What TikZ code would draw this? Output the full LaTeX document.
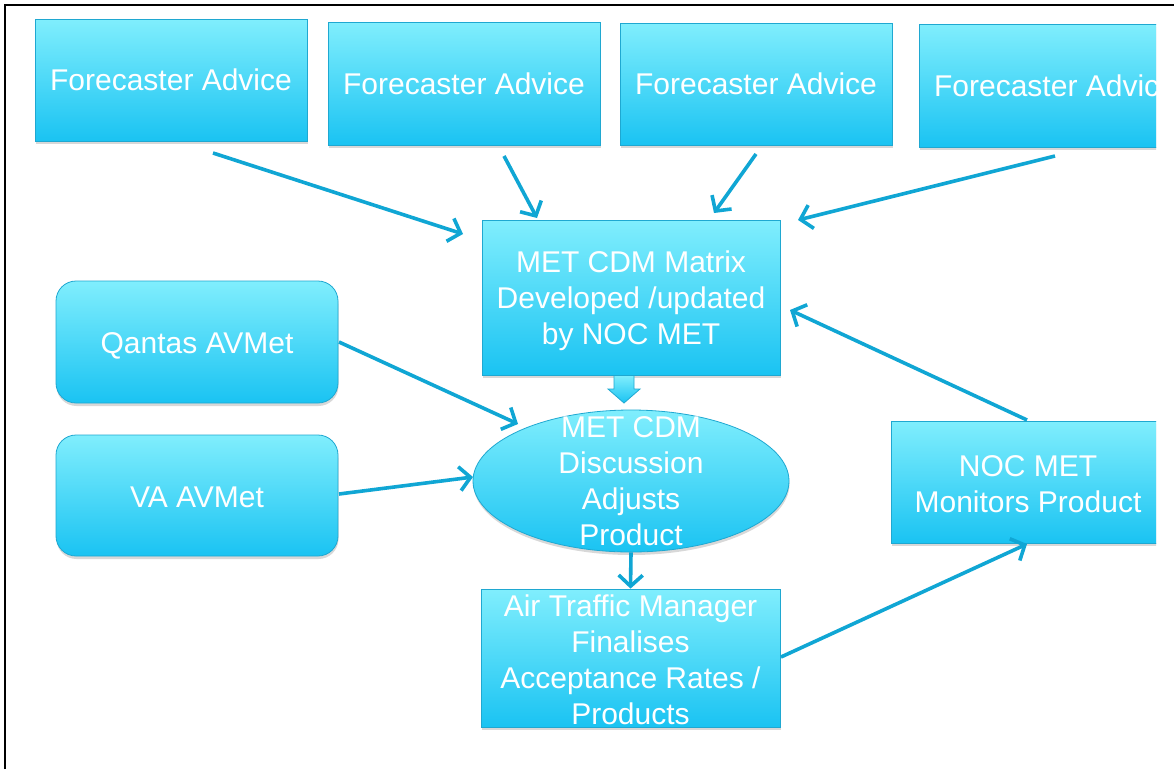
\documentclass[tikz,border=0pt]{standalone}
\usepackage{fontspec}
\setmainfont{Liberation Sans}
\usetikzlibrary{arrows.meta,shapes.geometric,shadows}
\definecolor{ctop}{HTML}{80EEFD}
\definecolor{cbot}{HTML}{1AC3F2}
\definecolor{cedge}{HTML}{1FA8D1}
\definecolor{carr}{HTML}{10A6D4}
\begin{document}
\begin{tikzpicture}[x=1pt,y=-1pt,
  fillsh/.style={draw=cedge, line width=0.8pt, top color=ctop, bottom color=cbot,
    drop shadow={shadow xshift=0.5pt, shadow yshift=-3pt, opacity=0.3}},
  txt/.style={text=white, font=\fontsize{30}{36}\selectfont, align=center, inner sep=0pt},
  box/.style={rectangle, fillsh, txt},
  rbox/.style={rectangle, rounded corners=20pt, fillsh, txt},
  arr/.style={draw=carr, line width=3.6pt, -{Straight Barb[length=11pt,width=24pt]}}]
\useasboundingbox (0,0) rectangle (1174,769);
\fill[white] (0,0) rectangle (1174,769);
\draw[line width=1.8pt] (5,769) -- (5,5) -- (1174,5);
\begin{scope}
\clip (6,6) rectangle (1156,769);
% nodes
\node[box, minimum width=272pt, minimum height=122pt] (f1) at (171,80) {Forecaster Advice};
\node[box, minimum width=272pt, minimum height=123pt] (f2) at (464,83.5) {Forecaster Advice};
\node[box, minimum width=272pt, minimum height=122pt] (f3) at (756,84) {Forecaster Advice};
\node[box, minimum width=272pt, minimum height=123pt] (f4) at (1055,85.5) {Forecaster Advice};
\node[box, minimum width=298pt, minimum height=155pt] (mat) at (631,297.5) {};
\node[txt] (matT) at (631,301) {MET CDM Matrix\\Developed /updated\\by NOC MET};
\node[rbox, minimum width=282pt, minimum height=122pt] (qan) at (197,342) {};
\node[txt] (qanT) at (197,346) {Qantas AVMet};
\node[rbox, minimum width=282pt, minimum height=121pt] (va) at (197,495.5) {};
\node[txt] (vaT) at (197,497.5) {VA AVMet};
\node[ellipse, fillsh, inner sep=0pt, minimum width=316pt, minimum height=142pt] (disc) at (631,481) {};
\node[txt] (discT) at (631,481.5) {MET CDM\\Discussion\\Adjusts\\Product};
\node[rectangle, fillsh, inner sep=0pt, minimum width=299pt, minimum height=138pt] (atm) at (630.5,658) {};
\node[txt] (atmT) at (630.5,660) {Air Traffic Manager\\Finalises\\Acceptance Rates /\\Products};
\node[box, minimum width=274pt, minimum height=122pt] (noc) at (1028,482) {};
\node[txt] (nocT) at (1028,484) {NOC MET\\Monitors Product};
% block arrow from matrix to discussion
\path[draw=cedge, line width=0.8pt, top color=ctop, bottom color=cbot] (614,375.5) -- (634,375.5) -- (634,389) -- (640,389) -- (624,403) -- (608,389) -- (614,389) -- cycle;
% connector end points
\coordinate (a1s) at (213,153); \coordinate (a1e) at (463,234);
\coordinate (a2s) at (504,156); \coordinate (a2e) at (537,218);
\coordinate (a3s) at (756,154); \coordinate (a3e) at (714,213);
\coordinate (a4s) at (1055,156); \coordinate (a4e) at (798,220);
\coordinate (a5s) at (1027,420); \coordinate (a5e) at (790,310);
\coordinate (a6s) at (339,342); \coordinate (a6e) at (518,424);
\coordinate (a7s) at (339,494); \coordinate (a7e) at (473,477);
\coordinate (a9s) at (781,657); \coordinate (a9e) at (1027,544);
\draw[arr] (a1s) -- (a1e);
\draw[arr] (a2s) -- (a2e);
\draw[arr] (a3s) -- (a3e);
\draw[arr] (a4s) -- (a4e);
\draw[arr] (a5s) -- (a5e);
\draw[arr] (a6s) -- (a6e);
\draw[arr] (a7s) -- (a7e);
\draw[arr] (disc.south) -- (atm.north);
\draw[arr] (a9s) -- (a9e);
\end{scope}
\end{tikzpicture}
\end{document}
